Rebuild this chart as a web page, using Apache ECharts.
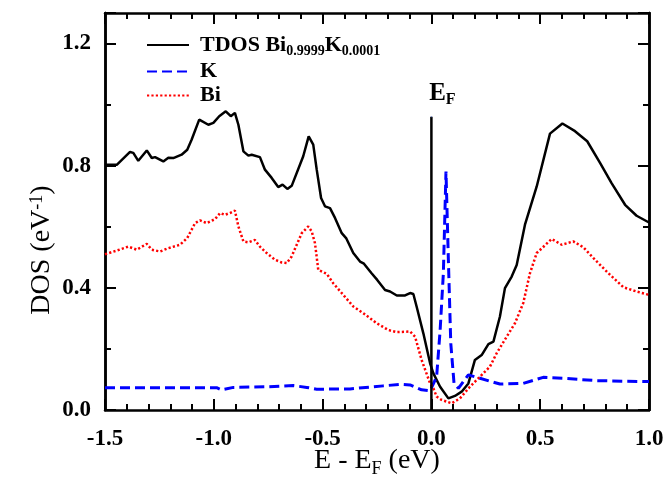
<!DOCTYPE html>
<html>
<head>
<meta charset="utf-8">
<script src="https://cdn.jsdelivr.net/npm/echarts@6/dist/echarts.min.js"></script>
<style>
html,body{margin:0;padding:0;background:#fff;}
#chart{width:665px;height:480px;}
</style>
</head>
<body>
<div id="chart"></div>
<script>
// ---- data ----
const tdosE = [-1.5,-1.446,-1.385,-1.370,-1.347,-1.308,-1.285,-1.270,-1.232,-1.209,-1.186,-1.148,-1.122,-1.102,-1.067,-1.025,-1.002,-0.975,-0.945,-0.922,-0.903,-0.887,-0.864,-0.841,-0.826,-0.788,-0.765,-0.734,-0.704,-0.684,-0.662,-0.642,-0.589,-0.564,-0.543,-0.527,-0.507,-0.489,-0.466,-0.443,-0.412,-0.392,-0.359,-0.328,-0.310,-0.275,-0.249,-0.213,-0.190,-0.159,-0.121,-0.098,-0.083,-0.068,-0.037,-0.006,0.009,0.040,0.078,0.108,0.139,0.170,0.200,0.231,0.262,0.285,0.315,0.338,0.369,0.392,0.430,0.484,0.545,0.602,0.660,0.716,0.775,0.828,0.890,0.943,1.0];
const tdosV = [0.803,0.803,0.845,0.842,0.816,0.850,0.825,0.828,0.814,0.826,0.825,0.836,0.852,0.885,0.951,0.934,0.940,0.962,0.978,0.962,0.973,0.934,0.847,0.833,0.836,0.828,0.787,0.760,0.730,0.738,0.724,0.734,0.831,0.896,0.869,0.787,0.694,0.667,0.661,0.629,0.579,0.563,0.514,0.486,0.479,0.448,0.426,0.393,0.388,0.375,0.375,0.383,0.380,0.339,0.251,0.153,0.120,0.076,0.038,0.046,0.060,0.087,0.164,0.180,0.216,0.224,0.306,0.399,0.437,0.475,0.607,0.732,0.905,0.938,0.913,0.880,0.809,0.743,0.672,0.636,0.614];

const kE = [-1.5,-0.987,-0.964,-0.910,-0.757,-0.635,-0.573,-0.527,-0.374,-0.221,-0.144,-0.098,-0.045,-0.006,0.024,0.040,0.055,0.067,0.078,0.089,0.104,0.124,0.170,0.208,0.315,0.422,0.514,0.606,0.760,1.0];
const kV = [0.073,0.073,0.066,0.074,0.076,0.080,0.074,0.068,0.069,0.079,0.084,0.082,0.066,0.063,0.109,0.260,0.448,0.781,0.492,0.219,0.087,0.071,0.115,0.107,0.085,0.087,0.107,0.104,0.096,0.093];

const biE = [-1.5,-1.446,-1.393,-1.354,-1.308,-1.285,-1.247,-1.209,-1.155,-1.122,-1.086,-1.063,-1.033,-0.994,-0.971,-0.949,-0.926,-0.903,-0.887,-0.864,-0.841,-0.811,-0.788,-0.757,-0.719,-0.688,-0.665,-0.642,-0.596,-0.566,-0.550,-0.535,-0.520,-0.481,-0.451,-0.405,-0.359,-0.313,-0.251,-0.198,-0.159,-0.098,-0.075,-0.045,-0.006,0.009,0.024,0.047,0.093,0.131,0.177,0.223,0.269,0.300,0.346,0.384,0.422,0.453,0.484,0.553,0.599,0.652,0.698,0.752,0.813,0.882,0.943,1.0];
const biV = [0.510,0.522,0.535,0.525,0.544,0.525,0.519,0.530,0.541,0.563,0.612,0.621,0.612,0.625,0.645,0.639,0.645,0.653,0.601,0.552,0.549,0.557,0.535,0.514,0.492,0.483,0.481,0.503,0.579,0.601,0.585,0.546,0.459,0.446,0.415,0.377,0.339,0.317,0.284,0.262,0.255,0.257,0.240,0.164,0.087,0.071,0.044,0.033,0.022,0.038,0.076,0.109,0.142,0.186,0.240,0.284,0.350,0.448,0.514,0.560,0.541,0.552,0.533,0.492,0.448,0.402,0.388,0.377];

const fermiE = [0, 0];
const fermiV = [0, 0.96];

const seriesNames = ['TDOS', 'K', 'Bi'];
const yTicks = [0.0, 0.4, 0.8, 1.2];

// ---- build ----
const zip = (a, b) => a.map((v, i) => [v, b[i]]);
const FONT = '"Liberation Serif", serif';

const chart = echarts.init(document.getElementById('chart'));

function axisLine() { return {show: true, onZero: false, lineStyle: {color: '#000', width: 2.5}}; }

function xAx(pos, showLabel) {
  return {
    type: 'value', position: pos, min: -1.5, max: 1.0, interval: 0.5,
    axisLine: axisLine(),
    axisTick: {show: true, inside: true, length: 11, lineStyle: {color: '#000', width: 2}},
    minorTick: {show: true, splitNumber: 5, length: 6, lineStyle: {color: '#000', width: 2}},
    splitLine: {show: false}, minorSplitLine: {show: false},
    axisLabel: {
      show: showLabel, margin: 18, color: '#000', fontFamily: FONT, fontWeight: 'bold', fontSize: 23,
      formatter: v => v.toFixed(1)
    }
  };
}
function yAx(pos, interval, len, showLabel) {
  return {
    type: 'value', position: pos, min: 0, max: 1.3, interval: interval,
    axisLine: axisLine(),
    axisTick: {show: true, inside: true, length: len, lineStyle: {color: '#000', width: 2}},
    splitLine: {show: false},
    axisLabel: {
      show: showLabel, margin: 14, color: '#000', fontFamily: FONT, fontWeight: 'bold', fontSize: 23,
      formatter: v => (yTicks.some(t => Math.abs(t - v) < 1e-6) ? v.toFixed(1) : '')
    }
  };
}

const option = {
  animation: false,
  grid: {left: 105, right: 16, top: 13, bottom: 70, outerBoundsMode: 'none'},
  xAxis: [xAx('bottom', true), xAx('top', false)],
  yAxis: [yAx('left', 0.4, 11, true), yAx('left', 0.2, 6, false), yAx('right', 0.4, 11, false), yAx('right', 0.2, 6, false)],
  legend: {
    data: seriesNames,
    orient: 'vertical', left: 141, top: 29, itemGap: 2,
    itemWidth: 42, itemHeight: 14,
    itemStyle: {opacity: 0},
    textStyle: {
      color: '#000', fontFamily: FONT, fontWeight: 'bold', fontSize: 22, padding: [0, 0, 0, 6],
      rich: {
        b: {fontFamily: FONT, fontWeight: 'bold', fontSize: 22, lineHeight: 27, color: '#000'},
        s: {fontFamily: FONT, fontWeight: 'bold', fontSize: 14, lineHeight: 14, verticalAlign: 'bottom', color: '#000'}
      }
    },
    formatter: name => name === 'TDOS' ? '{b|TDOS Bi}{s|0.9999}{b|K}{s|0.0001}' : '{b|' + name + '}'
  },
  graphic: [
    {
      type: 'text', x: 42, y: 250, rotation: Math.PI / 2,
      style: {
        text: 'DOS (eV{sup|-1})', fill: '#000', fontFamily: FONT, fontSize: 28,
        align: 'center', verticalAlign: 'middle',
        rich: {sup: {fontFamily: FONT, fontSize: 18, lineHeight: 18, verticalAlign: 'top', fill: '#000'}}
      }
    },
    {
      type: 'text', x: 377, y: 461,
      style: {
        text: 'E - E{sub|F} (eV)', fill: '#000', fontFamily: FONT, fontSize: 28, lineHeight: 34,
        align: 'center', verticalAlign: 'middle',
        rich: {sub: {fontFamily: FONT, fontSize: 18, lineHeight: 18, verticalAlign: 'bottom', fill: '#000'}}
      }
    }
  ],
  series: [
    {
      name: 'TDOS', type: 'line', data: zip(tdosE, tdosV), symbol: 'none', smooth: false,
      lineStyle: {color: '#000', width: 2.5}, itemStyle: {color: '#000'}
    },
    {
      name: 'K', type: 'line', data: zip(kE, kV), symbol: 'none', smooth: false,
      lineStyle: {color: '#0000ff', width: 3, type: [10, 5]}, itemStyle: {color: '#0000ff'}
    },
    {
      name: 'Bi', type: 'line', data: zip(biE, biV), symbol: 'none', smooth: false,
      lineStyle: {color: '#ff0000', width: 2.5, type: [2.2, 2.2]}, itemStyle: {color: '#ff0000'}
    },
    {
      name: 'EF', type: 'line', symbol: 'none', silent: true,
      lineStyle: {color: '#000', width: 2.5},
      data: [
        zip(fermiE, fermiV)[0],
        {
          value: zip(fermiE, fermiV)[1],
          symbol: 'circle', symbolSize: 1,
          label: {
            show: true, position: 'top', distance: 8, offset: [11, 0],
            formatter: '{e|E}{f|F}',
            rich: {
              e: {fontFamily: FONT, fontWeight: 'bold', fontSize: 25, lineHeight: 30, color: '#000'},
              f: {fontFamily: FONT, fontWeight: 'bold', fontSize: 16, lineHeight: 16, verticalAlign: 'bottom', color: '#000'}
            }
          }
        }
      ]
    }
  ]
};
chart.setOption(option);
</script>
</body>
</html>
